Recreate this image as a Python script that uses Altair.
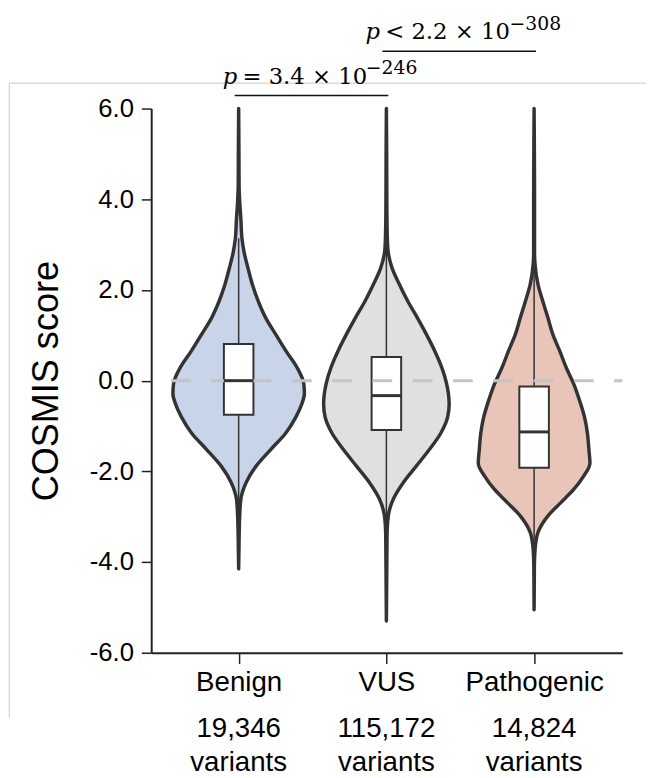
import altair as alt
import pandas as pd

# ---------------- data ----------------
categories = ["Benign", "VUS", "Pathogenic"]
variant_counts = ["19,346", "115,172", "14,824"]
unit_label = "variants"
fill_colors = ["#c8d5e8", "#e0e0e0", "#e9c4b8"]

# violin outlines: score levels and half-widths (fraction of category spacing)
benign_score = [6.0, 5.0, 4.3, 3.9, 3.56, 3.12, 2.83, 2.47, 2.11, 1.74, 1.38, 1.02, 0.65, 0.29,
                -0.07, -0.29, -0.51, -0.80, -1.16, -1.52, -1.89, -2.25, -2.61, -2.98, -3.5, -4.15]
benign_half = [0, .002, .003, .008, .015, .023, .037, .064, .094, .134, .184, .251, .321, .395,
               .441, .445, .428, .388, .318, .217, .117, .050, .015, .007, .003, 0]
vus_score = [6.0, 5.0, 4.0, 3.34, 2.90, 2.47, 2.11, 1.74, 1.38, 1.02, 0.65, 0.29, -0.07, -0.51,
             -0.80, -1.16, -1.52, -1.89, -2.25, -2.61, -2.98, -3.34, -4.0, -5.3]
vus_half = [0, .002, .003, .005, .010, .040, .090, .147, .211, .271, .328, .375, .408, .425,
            .415, .368, .291, .201, .114, .047, .013, .005, .003, 0]
path_score = [6.0, 5.0, 4.0, 2.83, 2.54, 2.11, 1.74, 1.38, 1.02, 0.65, 0.29, -0.07, -0.44, -0.80,
              -1.16, -1.52, -1.82, -2.11, -2.40, -2.69, -2.98, -3.34, -3.70, -4.07, -5.05]
path_half = [0, .002, .003, .003, .007, .027, .060, .094, .127, .174, .217, .268, .308, .341,
             .361, .371, .378, .334, .268, .181, .094, .027, .007, .002, 0]

# box plot statistics
q1 = [-0.75, -1.09, -1.92]
median = [0.0, -0.33, -1.13]
q3 = [0.81, 0.52, -0.13]
whisker_low = [-3.0, -3.5, -3.6]
whisker_high = [3.14, 2.94, 2.55]

# significance annotations
p_left = [0, 1]
p_right = [1, 2]
p_rest = ["= 3.4 × 10", "< 2.2 × 10"]
p_exponent = ["−246", "−308"]

y_ticks = [-6, -4, -2, 0, 2, 4, 6]

# ---------------- styling / layout ----------------
BOX_HALF = 0.1
DARK = "#333333"
SANS = "Liberation Sans"
SERIF = "DejaVu Serif"

xscale = alt.Scale(domain=[-0.592, 2.597], nice=False, zero=False)
yscale = alt.Scale(domain=[-6, 6], nice=False, zero=False)

label_expr_x = "[" + ",".join("'%s'" % c for c in categories) + "][datum.value]"
xaxis = alt.Axis(values=[0, 1, 2], labelExpr=label_expr_x, title=None, grid=False,
                 tickSize=11, labelPadding=5, labelFontSize=28, labelFont=SANS,
                 labelColor="black", domainColor="#222222", domainWidth=2,
                 tickColor="#222222", tickWidth=1.5, labelAngle=0, labelFlush=False,
                 labelOverlap=False)
yaxis = alt.Axis(values=y_ticks,
                 labelExpr="(datum.value < 0 ? '-' : '') + format(abs(datum.value), '.1f')",
                 title="COSMIS score", titleFontSize=36.5, titleFont=SANS,
                 titleFontWeight="normal", titleColor="black", titlePadding=24,
                 labelFontSize=26, labelFont=SANS, labelColor="black", labelPadding=8,
                 tickSize=10, grid=False, domainColor="#222222", domainWidth=2,
                 tickColor="#222222", tickWidth=1.5, labelOverlap=False)


def X(field):
    return alt.X(f"{field}:Q", scale=xscale, axis=xaxis, stack=None)


def Y(field):
    return alt.Y(f"{field}:Q", scale=yscale, axis=yaxis, stack=None)


# ---------------- layers ----------------
blank = pd.DataFrame({"k": [0]})
frame_h = alt.Chart(blank).mark_rule(color="#c8c8c8", strokeWidth=1).encode(
    x=alt.value(-143.7), x2=alt.value(501), y=alt.value(-25.7))
frame_v = alt.Chart(blank).mark_rule(color="#c8c8c8", strokeWidth=1).encode(
    x=alt.value(-143.7), y=alt.value(-25.7), y2=alt.value(617))

rows = []
for i, (sc, hw) in enumerate([(benign_score, benign_half), (vus_score, vus_half),
                               (path_score, path_half)]):
    for s, h in zip(sc, hw):
        rows.append({"cat": categories[i], "idx": i, "score": s, "half": h})
violin_df = pd.DataFrame(rows)

violin = alt.Chart(violin_df).transform_calculate(
    left="datum.idx - datum.half", right="datum.idx + datum.half"
).mark_area(orient="horizontal", interpolate="monotone", stroke=DARK, strokeWidth=3.5,
            strokeJoin="round", strokeCap="round", fillOpacity=1).encode(
    y=Y("score"), x=X("left"), x2=alt.X2("right:Q"),
    color=alt.Color("cat:N", scale=alt.Scale(domain=categories, range=fill_colors), legend=None),
)

box_df = pd.DataFrame({"idx": [0, 1, 2], "q1": q1, "q3": q3, "med": median,
                       "wlo": whisker_low, "whi": whisker_high})
box_base = alt.Chart(box_df).transform_calculate(
    bl=f"datum.idx - {BOX_HALF}", br=f"datum.idx + {BOX_HALF}")
whisk = box_base.mark_rule(color=DARK, strokeWidth=1.5).encode(
    x=X("idx"), y=Y("wlo"), y2=alt.Y2("whi:Q"))
box = box_base.mark_rect(fill="white", stroke=DARK, strokeWidth=2).encode(
    x=X("bl"), x2=alt.X2("br:Q"), y=Y("q1"), y2=alt.Y2("q3:Q"))
med = box_base.mark_rule(color=DARK, strokeWidth=3).encode(
    x=X("bl"), x2=alt.X2("br:Q"), y=Y("med"))

zero_df = pd.DataFrame({"zero": [0.0]})
zero = alt.Chart(zero_df).mark_rule(color="#c4c4c4", strokeWidth=3,
                                    strokeDash=[20, 20.8]).encode(
    y=Y("zero"), x=alt.value(20), x2=alt.value(477))

layers = [frame_h, frame_v, violin, whisk, box, zero, med]

bracket_y = [-13.3, -58]
# pixel offsets (from bracket centre) of the italic p, the rest, and the exponent
piece_dx = [(-91, -71, 54), (-96, -76, 50)]
for k in range(len(p_left)):
    df = pd.DataFrame({"a": [p_left[k]], "b": [p_right[k]], "rest": [p_rest[k]],
                       "exp": [p_exponent[k]]})
    base = alt.Chart(df).transform_calculate(
        xa="datum.a - 0.027", xb="datum.b + 0.013", mid="(datum.a + datum.b) / 2")
    by = bracket_y[k]
    d = piece_dx[k]
    layers.append(base.mark_rule(color="#111111", strokeWidth=1.5).encode(
        x=X("xa"), x2=alt.X2("xb:Q"), y=alt.value(by)))
    common = dict(font=SERIF, fontSize=23, align="left", baseline="alphabetic", color="black")
    layers.append(base.mark_text(text="p", fontStyle="italic", dx=d[0], **common).encode(
        x=X("mid"), y=alt.value(by - 12)))
    layers.append(base.mark_text(dx=d[1], **common).encode(
        x=X("mid"), y=alt.value(by - 12), text="rest:N"))
    layers.append(base.mark_text(font=SERIF, fontSize=19, align="left",
                                 baseline="alphabetic", dx=d[2], color="black").encode(
        x=X("mid"), y=alt.value(by - 21.5), text="exp:N"))

count_df = pd.DataFrame({"idx": [0, 1, 2], "n": variant_counts,
                         "u": [unit_label] * 3})
layers.append(alt.Chart(count_df).mark_text(font=SANS, fontSize=28, align="center",
                                            baseline="alphabetic", color="black").encode(
    x=X("idx"), y=alt.value(636), text="n:N"))
layers.append(alt.Chart(count_df).mark_text(font=SANS, fontSize=28, align="center",
                                            baseline="alphabetic", color="black").encode(
    x=X("idx"), y=alt.value(671), text="u:N"))

chart = alt.layer(*layers).properties(
    width=477, height=551,
    padding={"left": 145, "top": 97, "right": 24, "bottom": 122},
    autosize=alt.AutoSizeParams(type="none"),
).configure_view(stroke=None)

chart.save("out.html", embed_options={"renderer": "svg", "actions": False})
